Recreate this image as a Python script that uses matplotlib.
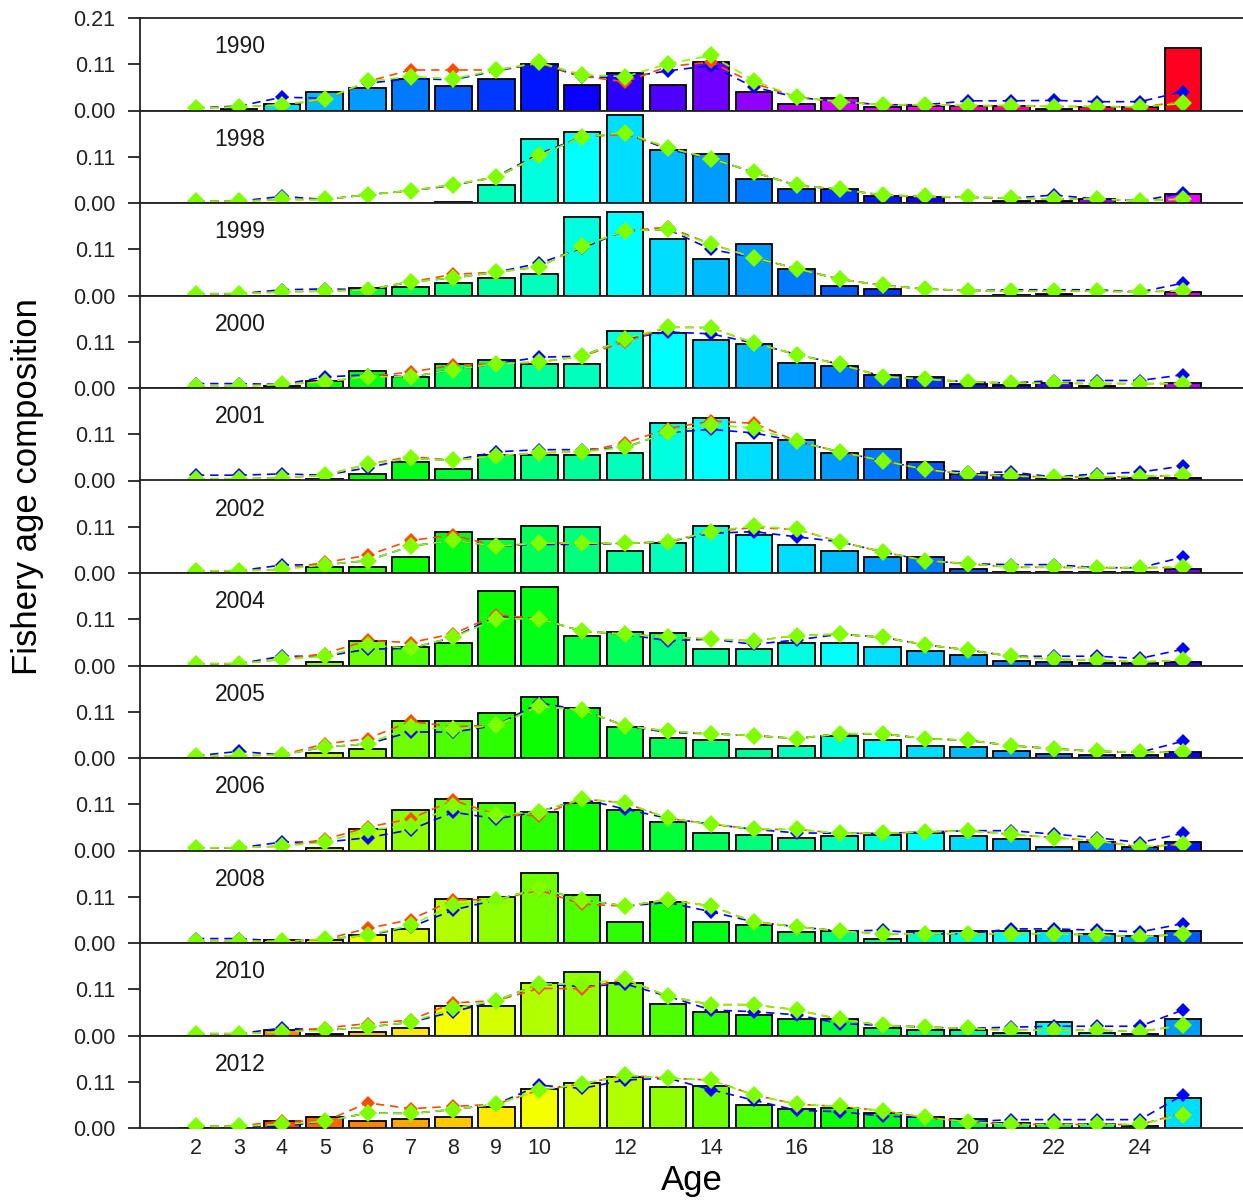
import colorsys
import matplotlib
matplotlib.use("Agg")
import matplotlib.pyplot as plt

plt.rcParams['font.family'] = ['Liberation Sans', 'DejaVu Sans']

years = [1990, 1998, 1999, 2000, 2001, 2002, 2004, 2005, 2006, 2008, 2010, 2012]
ages = list(range(2, 26))
xtick_ages = [2, 3, 4, 5, 6, 7, 8, 9, 10, 12, 14, 16, 18, 20, 22, 24]
ytick_vals = [0.0, 0.105, 0.21]
ytick_text = ["0.00", "0.11", "0.21"]

# observed proportions (bars), ages 2..25
observed = [
    [0, 0.004, 0.015, 0.042, 0.050, 0.072, 0.055, 0.071, 0.105, 0.058, 0.085, 0.058, 0.109, 0.042, 0.015, 0.029, 0.008, 0.011, 0.011, 0.011, 0.004, 0.008, 0.008, 0.142],
    [0, 0, 0, 0, 0, 0, 0.003, 0.040, 0.145, 0.161, 0.199, 0.120, 0.111, 0.055, 0.031, 0.031, 0.015, 0.013, 0, 0.005, 0.004, 0.009, 0, 0.021],
    [0, 0, 0, 0, 0.017, 0.020, 0.028, 0.040, 0.049, 0.178, 0.189, 0.128, 0.084, 0.118, 0.060, 0.021, 0.015, 0, 0, 0.002, 0.003, 0, 0, 0.009],
    [0, 0, 0.004, 0.016, 0.038, 0.025, 0.054, 0.063, 0.054, 0.054, 0.129, 0.125, 0.108, 0.100, 0.057, 0.050, 0.029, 0.025, 0.008, 0.006, 0.012, 0.005, 0, 0.011],
    [0, 0, 0.002, 0.004, 0.015, 0.042, 0.027, 0.058, 0.058, 0.058, 0.063, 0.131, 0.142, 0.085, 0.092, 0.063, 0.071, 0.042, 0.015, 0.012, 0.004, 0.006, 0.005, 0.006],
    [0, 0, 0, 0.013, 0.013, 0.036, 0.094, 0.077, 0.107, 0.104, 0.051, 0.068, 0.107, 0.086, 0.064, 0.051, 0.036, 0.036, 0.009, 0.002, 0.003, 0.002, 0.002, 0.009],
    [0, 0, 0, 0.007, 0.055, 0.042, 0.050, 0.170, 0.178, 0.068, 0.077, 0.073, 0.037, 0.037, 0.050, 0.050, 0.042, 0.033, 0.024, 0.010, 0.008, 0.006, 0.005, 0.008],
    [0, 0, 0, 0.011, 0.021, 0.084, 0.084, 0.103, 0.139, 0.114, 0.071, 0.046, 0.042, 0.021, 0.028, 0.051, 0.042, 0.028, 0.025, 0.015, 0.009, 0.007, 0.007, 0.013],
    [0, 0, 0, 0.005, 0.048, 0.091, 0.116, 0.108, 0.087, 0.108, 0.091, 0.065, 0.039, 0.035, 0.028, 0.032, 0.035, 0.039, 0.032, 0.025, 0.008, 0.019, 0.008, 0.019],
    [0, 0, 0.006, 0.006, 0.018, 0.031, 0.099, 0.105, 0.159, 0.109, 0.048, 0.092, 0.048, 0.040, 0.024, 0.027, 0.010, 0.027, 0.027, 0.027, 0.027, 0.021, 0.016, 0.027],
    [0, 0, 0.012, 0.004, 0.009, 0.016, 0.068, 0.068, 0.119, 0.144, 0.119, 0.072, 0.054, 0.047, 0.037, 0.037, 0.016, 0.012, 0.012, 0.006, 0.030, 0.006, 0.004, 0.037],
    [0, 0, 0.017, 0.026, 0.017, 0.021, 0.026, 0.047, 0.088, 0.103, 0.115, 0.092, 0.095, 0.052, 0.043, 0.046, 0.034, 0.025, 0.021, 0.011, 0.008, 0.008, 0.004, 0.067],
]

# expected proportions, model run shown in blue
fit_blue = [
    [0.006, 0.010, 0.030, 0.028, 0.062, 0.072, 0.070, 0.090, 0.107, 0.076, 0.075, 0.090, 0.102, 0.053, 0.030, 0.020, 0.013, 0.013, 0.022, 0.022, 0.023, 0.020, 0.020, 0.043],
    [0.004, 0.004, 0.015, 0.008, 0.019, 0.028, 0.040, 0.060, 0.112, 0.150, 0.159, 0.122, 0.101, 0.070, 0.040, 0.031, 0.018, 0.015, 0.013, 0.011, 0.018, 0.009, 0.005, 0.022],
    [0.004, 0.004, 0.013, 0.015, 0.013, 0.031, 0.040, 0.053, 0.073, 0.108, 0.147, 0.150, 0.105, 0.086, 0.061, 0.037, 0.023, 0.015, 0.011, 0.013, 0.013, 0.013, 0.008, 0.028],
    [0.010, 0.010, 0.008, 0.025, 0.030, 0.025, 0.042, 0.055, 0.070, 0.072, 0.112, 0.127, 0.123, 0.102, 0.076, 0.054, 0.026, 0.020, 0.014, 0.011, 0.017, 0.017, 0.017, 0.030],
    [0.012, 0.012, 0.015, 0.012, 0.029, 0.050, 0.046, 0.065, 0.070, 0.070, 0.075, 0.109, 0.116, 0.108, 0.089, 0.065, 0.045, 0.025, 0.019, 0.019, 0.008, 0.015, 0.019, 0.033],
    [0.005, 0.005, 0.018, 0.019, 0.028, 0.061, 0.074, 0.061, 0.065, 0.065, 0.067, 0.071, 0.090, 0.094, 0.082, 0.071, 0.048, 0.028, 0.021, 0.019, 0.019, 0.012, 0.012, 0.036],
    [0.004, 0.004, 0.021, 0.021, 0.037, 0.039, 0.064, 0.112, 0.106, 0.078, 0.071, 0.056, 0.060, 0.048, 0.058, 0.071, 0.064, 0.047, 0.035, 0.021, 0.021, 0.021, 0.016, 0.037],
    [0.005, 0.015, 0.007, 0.025, 0.032, 0.059, 0.059, 0.074, 0.125, 0.109, 0.073, 0.058, 0.055, 0.051, 0.044, 0.055, 0.055, 0.044, 0.040, 0.028, 0.021, 0.015, 0.013, 0.038],
    [0.006, 0.006, 0.019, 0.019, 0.029, 0.047, 0.087, 0.072, 0.088, 0.117, 0.094, 0.073, 0.060, 0.048, 0.040, 0.039, 0.039, 0.042, 0.045, 0.045, 0.037, 0.029, 0.018, 0.039],
    [0.010, 0.010, 0.004, 0.008, 0.018, 0.036, 0.075, 0.098, 0.124, 0.098, 0.084, 0.092, 0.071, 0.048, 0.037, 0.027, 0.029, 0.021, 0.021, 0.032, 0.032, 0.029, 0.025, 0.044],
    [0.004, 0.004, 0.017, 0.012, 0.019, 0.030, 0.054, 0.079, 0.117, 0.111, 0.117, 0.089, 0.058, 0.054, 0.047, 0.027, 0.023, 0.019, 0.016, 0.019, 0.021, 0.021, 0.021, 0.058],
    [0.004, 0.004, 0.004, 0.015, 0.034, 0.033, 0.042, 0.054, 0.097, 0.090, 0.109, 0.113, 0.087, 0.063, 0.040, 0.037, 0.027, 0.024, 0.014, 0.019, 0.019, 0.019, 0.019, 0.075],
]

# expected proportions, model run shown in red
fit_red = [
    [0.005, 0.008, 0.013, 0.024, 0.066, 0.092, 0.092, 0.092, 0.107, 0.078, 0.065, 0.100, 0.110, 0.062, 0.030, 0.020, 0.013, 0.013, 0.011, 0.011, 0.009, 0.009, 0.008, 0.020],
    [0.004, 0.004, 0.008, 0.008, 0.019, 0.028, 0.042, 0.058, 0.108, 0.150, 0.156, 0.126, 0.101, 0.070, 0.040, 0.031, 0.018, 0.013, 0.013, 0.011, 0.009, 0.009, 0.005, 0.009],
    [0.004, 0.004, 0.008, 0.010, 0.013, 0.031, 0.048, 0.053, 0.065, 0.112, 0.147, 0.155, 0.117, 0.086, 0.061, 0.037, 0.023, 0.015, 0.011, 0.010, 0.010, 0.010, 0.008, 0.011],
    [0.004, 0.004, 0.008, 0.014, 0.026, 0.036, 0.052, 0.055, 0.059, 0.072, 0.105, 0.138, 0.137, 0.102, 0.076, 0.054, 0.026, 0.020, 0.014, 0.011, 0.011, 0.010, 0.010, 0.010],
    [0.004, 0.004, 0.006, 0.012, 0.037, 0.054, 0.046, 0.056, 0.063, 0.065, 0.085, 0.118, 0.135, 0.130, 0.089, 0.065, 0.045, 0.025, 0.014, 0.010, 0.008, 0.008, 0.009, 0.012],
    [0.005, 0.005, 0.008, 0.024, 0.040, 0.074, 0.086, 0.061, 0.068, 0.068, 0.067, 0.071, 0.094, 0.103, 0.099, 0.071, 0.048, 0.028, 0.021, 0.013, 0.013, 0.012, 0.012, 0.013],
    [0.004, 0.004, 0.014, 0.027, 0.057, 0.052, 0.072, 0.115, 0.106, 0.078, 0.071, 0.065, 0.060, 0.056, 0.068, 0.071, 0.064, 0.047, 0.035, 0.021, 0.014, 0.012, 0.008, 0.012],
    [0.005, 0.005, 0.007, 0.032, 0.044, 0.083, 0.071, 0.075, 0.117, 0.109, 0.073, 0.061, 0.055, 0.051, 0.044, 0.055, 0.055, 0.044, 0.040, 0.028, 0.021, 0.015, 0.013, 0.013],
    [0.006, 0.006, 0.010, 0.025, 0.053, 0.072, 0.114, 0.081, 0.079, 0.117, 0.108, 0.073, 0.060, 0.048, 0.048, 0.039, 0.039, 0.042, 0.045, 0.037, 0.029, 0.022, 0.008, 0.014],
    [0.004, 0.004, 0.004, 0.008, 0.033, 0.053, 0.098, 0.098, 0.120, 0.088, 0.084, 0.098, 0.084, 0.048, 0.037, 0.027, 0.021, 0.021, 0.021, 0.021, 0.021, 0.018, 0.014, 0.020],
    [0.004, 0.004, 0.008, 0.017, 0.027, 0.035, 0.074, 0.079, 0.107, 0.106, 0.128, 0.089, 0.070, 0.070, 0.058, 0.037, 0.023, 0.019, 0.016, 0.012, 0.012, 0.012, 0.009, 0.023],
    [0.004, 0.004, 0.016, 0.015, 0.057, 0.044, 0.049, 0.054, 0.086, 0.100, 0.120, 0.113, 0.109, 0.075, 0.054, 0.049, 0.039, 0.024, 0.014, 0.008, 0.008, 0.008, 0.008, 0.034],
]

# expected proportions, model run shown in green
fit_green = [
    [0.005, 0.008, 0.013, 0.026, 0.066, 0.077, 0.072, 0.092, 0.109, 0.081, 0.077, 0.106, 0.125, 0.068, 0.030, 0.020, 0.013, 0.013, 0.011, 0.011, 0.009, 0.009, 0.008, 0.016],
    [0.004, 0.004, 0.008, 0.008, 0.019, 0.028, 0.042, 0.059, 0.108, 0.150, 0.160, 0.126, 0.101, 0.070, 0.040, 0.031, 0.018, 0.015, 0.013, 0.011, 0.009, 0.009, 0.005, 0.009],
    [0.004, 0.004, 0.008, 0.010, 0.013, 0.031, 0.040, 0.053, 0.065, 0.112, 0.147, 0.150, 0.117, 0.086, 0.061, 0.037, 0.023, 0.015, 0.011, 0.010, 0.010, 0.010, 0.008, 0.011],
    [0.004, 0.004, 0.008, 0.014, 0.026, 0.025, 0.042, 0.055, 0.059, 0.072, 0.112, 0.138, 0.137, 0.102, 0.076, 0.054, 0.026, 0.020, 0.014, 0.011, 0.011, 0.010, 0.010, 0.010],
    [0.004, 0.004, 0.006, 0.012, 0.037, 0.050, 0.046, 0.056, 0.063, 0.065, 0.075, 0.109, 0.127, 0.119, 0.089, 0.065, 0.045, 0.025, 0.014, 0.010, 0.008, 0.008, 0.009, 0.012],
    [0.005, 0.005, 0.008, 0.019, 0.028, 0.061, 0.074, 0.061, 0.068, 0.068, 0.067, 0.071, 0.094, 0.107, 0.099, 0.071, 0.048, 0.028, 0.021, 0.013, 0.013, 0.012, 0.012, 0.013],
    [0.004, 0.004, 0.014, 0.021, 0.047, 0.039, 0.064, 0.106, 0.106, 0.078, 0.071, 0.065, 0.060, 0.056, 0.068, 0.071, 0.064, 0.047, 0.035, 0.021, 0.014, 0.012, 0.008, 0.012],
    [0.005, 0.005, 0.007, 0.025, 0.032, 0.071, 0.065, 0.074, 0.117, 0.109, 0.073, 0.061, 0.055, 0.051, 0.044, 0.055, 0.055, 0.044, 0.040, 0.028, 0.021, 0.015, 0.013, 0.013],
    [0.006, 0.006, 0.010, 0.019, 0.047, 0.056, 0.102, 0.081, 0.088, 0.117, 0.108, 0.073, 0.060, 0.048, 0.048, 0.039, 0.039, 0.042, 0.045, 0.037, 0.029, 0.022, 0.008, 0.014],
    [0.004, 0.004, 0.004, 0.008, 0.018, 0.040, 0.086, 0.098, 0.124, 0.098, 0.084, 0.098, 0.084, 0.048, 0.037, 0.027, 0.021, 0.021, 0.021, 0.021, 0.021, 0.018, 0.014, 0.020],
    [0.004, 0.004, 0.008, 0.012, 0.019, 0.030, 0.062, 0.079, 0.117, 0.117, 0.128, 0.089, 0.070, 0.070, 0.058, 0.037, 0.023, 0.019, 0.016, 0.012, 0.012, 0.012, 0.009, 0.023],
    [0.004, 0.004, 0.008, 0.015, 0.034, 0.033, 0.042, 0.054, 0.086, 0.100, 0.120, 0.113, 0.109, 0.075, 0.054, 0.049, 0.039, 0.024, 0.014, 0.008, 0.008, 0.008, 0.008, 0.030],
]

series_styles = [
    (fit_blue, "#0000FF", 7.0),
    (fit_red, "#FF4A00", 7.0),
    (fit_green, "#7FFF00", 9.0),
]

first_cohort, last_cohort = 1965, 2010
n_cohorts = last_cohort - first_cohort + 1
plus_age = 25


def cohort_color(year, age):
    # plus group is coloured one cohort older
    cohort = year - age - (1 if age == plus_age else 0)
    idx = min(max(last_cohort - cohort, 0), n_cohorts - 1)
    return colorsys.hsv_to_rgb(idx / n_cohorts, 1.0, 1.0)


W, H = 1243, 1201
fig = plt.figure(figsize=(W / 100, H / 100), dpi=100)
left = 140 / W
right = 1.0
top = 1 - 18 / H
bottom = 1 - 1128 / H
n = len(years)
ph = (top - bottom) / n

for i, yr in enumerate(years):
    ax = fig.add_axes([left, top - (i + 1) * ph, right - left, ph])
    cols = [cohort_color(yr, a) for a in ages]
    ax.bar(ages, observed[i], width=0.85, color=cols, edgecolor="black",
           linewidth=1.3, zorder=2)
    for data, c, ms in series_styles:
        ax.plot(ages, data[i], color=c, linestyle=(0, (5, 3.5)), linewidth=1.2,
                marker="D", markersize=ms, markeredgewidth=0, zorder=3)
    ax.set_xlim(0.695, 26.4)
    ax.set_ylim(0, 0.21)
    ax.text(3.03, 0.145, str(yr), fontsize=16.5, ha="center", va="center",
            color="#1a1a1a")
    ax.spines["right"].set_visible(False)
    for s in ["left", "bottom", "top"]:
        ax.spines[s].set_linewidth(1.3)
        ax.spines[s].set_color("#222222")
    if i == 0:
        ax.set_yticks(ytick_vals)
        ax.set_yticklabels(ytick_text)
    else:
        ax.set_yticks(ytick_vals[:2])
        ax.set_yticklabels(ytick_text[:2])
    ax.tick_params(axis="y", length=9, width=1.3, pad=9, labelsize=15.5,
                   colors="#222222")
    if i == n - 1:
        ax.set_xticks(xtick_ages)
        ax.set_xticklabels([str(a) for a in xtick_ages])
        ax.tick_params(axis="x", length=0, pad=7, labelsize=15.5,
                       colors="#222222")
        ax.set_xlabel("Age", fontsize=25, labelpad=4)
    else:
        ax.set_xticks([])

fig.text(28 / W, 1 - 487 / H, "Fishery age composition", rotation=90,
         fontsize=25, ha="center", va="center")

fig.savefig("out.png", dpi=100)
